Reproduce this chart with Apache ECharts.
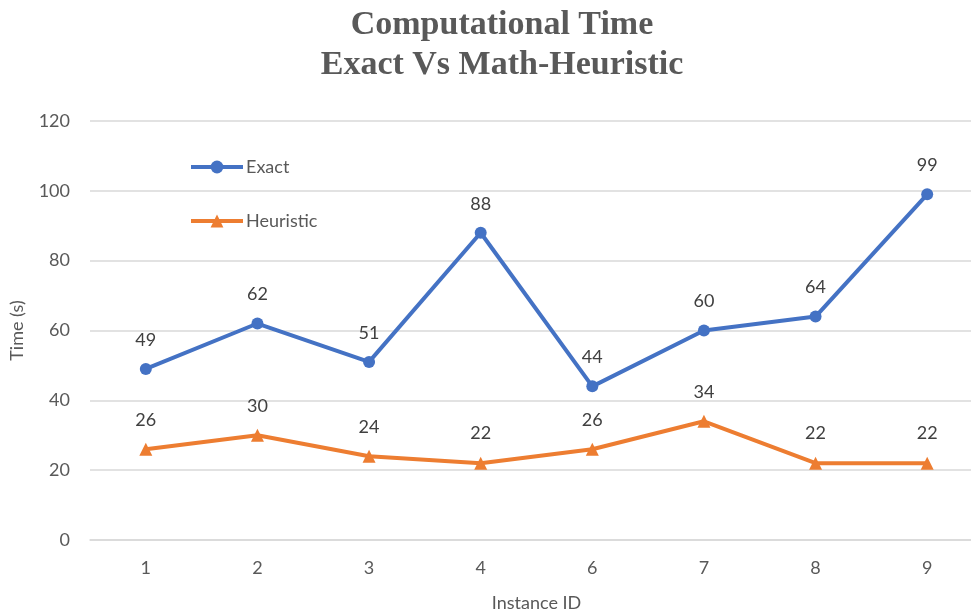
<!DOCTYPE html>
<html><head><meta charset="utf-8">
<script src="https://cdn.jsdelivr.net/npm/echarts@6/dist/echarts.min.js"></script>
<style>html,body{margin:0;padding:0;background:#fff}#c{width:971px;height:613px}</style>
</head><body><div id="c"></div>
<script>
const categories = ['1','2','3','4','6','7','8','9'];
const exactValues = [49, 62, 51, 88, 44, 60, 64, 99];
const heuristicValues = [26, 30, 24, 22, 26, 34, 22, 22];
const seriesNames = ['Exact', 'Heuristic'];
const titleLines = ['Computational Time', 'Exact Vs Math-Heuristic'];

const font = 'Lato, "Open Sans", sans-serif';
const chart = echarts.init(document.getElementById('c'), null, {renderer: 'canvas'});
chart.setOption({
  backgroundColor: '#ffffff',
  animation: false,
  title: {
    text: titleLines.join('\n'),
    left: 497, top: 0, textAlign: 'center',
    textStyle: {fontFamily: '"Liberation Serif", "DejaVu Serif", serif', fontWeight: 'bold', fontSize: 34, color: '#595959', lineHeight: 40}
  },
  legend: {
    orient: 'vertical', left: 184, top: 153, itemGap: 36, itemWidth: 52, itemHeight: 16,
    lineStyle: {width: 4},
    textStyle: {fontFamily: font, fontSize: 18, color: '#595959', padding: [0,0,0,-2]},
    data: seriesNames
  },
  grid: {left: 90, top: 121, width: 893, height: 419, containLabel: false, outerBoundsMode: 'none'},
  xAxis: {
    type: 'category', data: categories, boundaryGap: true,
    name: 'Instance ID', nameLocation: 'middle', nameGap: 54,
    nameTextStyle: {fontFamily: font, fontSize: 18, color: '#595959'},
    axisLine: {lineStyle: {color: '#d9d9d9', width: 1.5}},
    axisTick: {show: false},
    axisLabel: {fontFamily: font, fontSize: 18, color: '#595959', margin: 19}
  },
  yAxis: {
    type: 'value', min: 0, max: 120, interval: 20,
    name: 'Time (s)', nameLocation: 'middle', nameGap: 64, nameRotate: 90,
    nameTextStyle: {fontFamily: font, fontSize: 18, color: '#595959'},
    axisLine: {show: false}, axisTick: {show: false},
    axisLabel: {fontFamily: font, fontSize: 18, color: '#595959', margin: 20},
    splitLine: {lineStyle: {color: '#d9d9d9', width: 1.5}}
  },
  series: [
    {
      name: seriesNames[0], type: 'line', data: exactValues,
      symbol: 'circle', symbolSize: 12,
      lineStyle: {color: '#4472C4', width: 4},
      itemStyle: {color: '#4472C4'},
      label: {show: true, position: 'top', distance: 14, fontFamily: font, fontSize: 18, color: '#404040'}
    },
    {
      name: seriesNames[1], type: 'line', data: heuristicValues,
      symbol: 'triangle', symbolSize: 13,
      lineStyle: {color: '#ED7D31', width: 4},
      itemStyle: {color: '#ED7D31'},
      label: {show: true, position: 'top', distance: 14, fontFamily: font, fontSize: 18, color: '#404040'}
    }
  ]
});
</script></body></html>
